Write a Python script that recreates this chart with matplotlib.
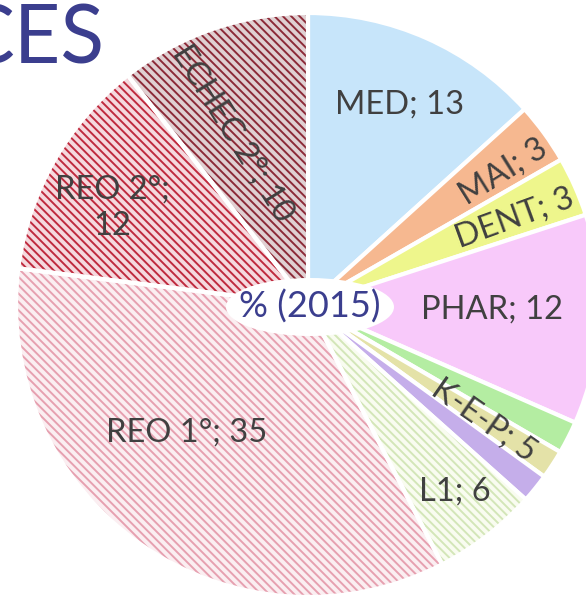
import matplotlib
matplotlib.use("Agg")
import matplotlib.pyplot as plt
import matplotlib.patches as mpatches

# ── datos ────────────────────────────────────────────────────────────────────
categories = ["MED", "MAI", "DENT", "PHAR", "K", "E", "P", "L1", "REO 1°", "REO 2°", "ECHEC 2°"]
values = [13.3, 3.4, 3.3, 11.6, 1.8, 1.6, 1.6, 5.8, 34.6, 12.4, 10.6]
label_texts = ["MED; 13", "MAI; 3", "DENT; 3", "PHAR; 12", "K-E-P; 5", "L1; 6",
               "REO 1°; 35", "REO 2°;\n12", "ECHEC 2°; 10"]

face_colors = ["#C7E5FA", "#F6B890", "#EEF68C", "#F8C9FA", "#B4EDA2", "#E4E2A8",
               "#C5AEEA", "#F9FCF0", "#FBEEF1", "#F5D9DE", "#E0D0D2"]
hatch_colors = {7: "#D3E6B8", 8: "#E6A0B0", 9: "#BF2A3E", 10: "#8C2A38"}

W, H = 586, 597
TEXT = "#404040"
BLUE = "#3B3E8E"

plt.rcParams["hatch.linewidth"] = 1.4

fig = plt.figure(figsize=(W / 100, H / 100), dpi=100, facecolor="white")
ax = fig.add_axes([0, 0, 1, 1])

cx, cy, r = 308, H - 305, 292
wedges, _ = ax.pie(values, colors=face_colors, startangle=90, counterclock=False,
                   center=(cx, cy), radius=r,
                   wedgeprops={"edgecolor": "white", "linewidth": 3})

# tramas (las rebanadas rayadas)
for i, hc in hatch_colors.items():
    w = wedges[i]
    w.set_edgecolor(hc)
    w.set_linewidth(0)
    w.set_hatch("\\\\\\\\")
    ax.add_patch(mpatches.Wedge(w.center, w.r, w.theta1, w.theta2,
                                facecolor="none", edgecolor="white", linewidth=3))

ax.set_xlim(0, W)
ax.set_ylim(0, H)
ax.set_aspect("auto")
ax.axis("off")

# etiquetas: (x, y en píxeles desde arriba, rotación)
label_pos = [(400, 105, 0), (503, 172, 32), (515, 218, 20), (492, 310, 0),
             (484, 420, -35), (455, 492, 0), (187, 433, 0), (112, 208, 0),
             (233, 133, -58)]
for txt, (x, y, rot) in zip(label_texts, label_pos):
    ax.text(x, H - y, txt, ha="center", va="center", rotation=rot,
            rotation_mode="anchor", fontsize=23.5, color=TEXT, family="Lato",
            linespacing=1.25)

# etiqueta central
ax.add_patch(mpatches.Ellipse((310, H - 307), 168, 58, facecolor="white",
                              edgecolor="none"))
ax.text(310, H - 307, "% (2015)", ha="center", va="center", fontsize=26,
        color=BLUE, family="Lato")

# resto del título de la diapositiva (cortado a la izquierda, como el original)
ax.text(104, H - 40, "CES", ha="right", va="center", fontsize=58,
        color=BLUE, family="Lato")

fig.savefig("out.png", dpi=100, facecolor="white")
plt.close(fig)
